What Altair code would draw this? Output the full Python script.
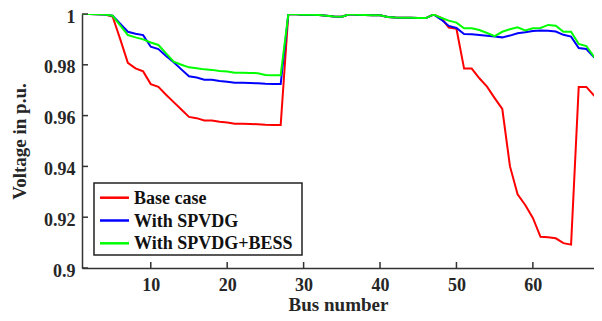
import altair as alt
import pandas as pd

bus = list(range(1, 70))
base = [1.0000, 1.0000, 0.9999, 0.9998, 0.9990, 0.9901, 0.9808, 0.9786, 0.9774, 0.9724,
        0.9713, 0.9682, 0.9653, 0.9624, 0.9595, 0.9590, 0.9581, 0.9581, 0.9576, 0.9573,
        0.9568, 0.9568, 0.9567, 0.9566, 0.9564, 0.9563, 0.9563, 0.9999, 0.9999, 0.9997,
        0.9997, 0.9996, 0.9993, 0.9990, 0.9989, 0.9999, 0.9997, 0.9996, 0.9995, 0.9995,
        0.9988, 0.9986, 0.9985, 0.9985, 0.9984, 0.9984, 0.9998, 0.9985, 0.9947, 0.9942,
        0.9785, 0.9785, 0.9747, 0.9714, 0.9669, 0.9626, 0.9401, 0.9290, 0.9248, 0.9197,
        0.9123, 0.9121, 0.9117, 0.9098, 0.9092, 0.9713, 0.9713, 0.9679, 0.9679]
spvdg = [1.0000, 1.0000, 0.9999, 0.9998, 0.9993, 0.9962, 0.9930, 0.9922, 0.9917, 0.9871,
         0.9862, 0.9835, 0.9810, 0.9782, 0.9755, 0.9750, 0.9741, 0.9741, 0.9736, 0.9733,
         0.9729, 0.9729, 0.9728, 0.9727, 0.9725, 0.9724, 0.9724, 0.9999, 0.9999, 0.9997,
         0.9997, 0.9996, 0.9993, 0.9990, 0.9989, 0.9999, 0.9997, 0.9996, 0.9995, 0.9995,
         0.9988, 0.9986, 0.9985, 0.9985, 0.9984, 0.9984, 0.9998, 0.9978, 0.9953, 0.9945,
         0.9921, 0.9920, 0.9917, 0.9914, 0.9911, 0.9908, 0.9915, 0.9924, 0.9928, 0.9933,
         0.9935, 0.9934, 0.9931, 0.9918, 0.9911, 0.9866, 0.9862, 0.9830, 0.9830]
bess = [1.0000, 1.0000, 0.9999, 0.9998, 0.9993, 0.9955, 0.9917, 0.9908, 0.9900, 0.9888,
        0.9878, 0.9845, 0.9812, 0.9800, 0.9790, 0.9786, 0.9782, 0.9780, 0.9776, 0.9774,
        0.9769, 0.9769, 0.9768, 0.9767, 0.9760, 0.9759, 0.9759, 0.9999, 0.9999, 0.9997,
        0.9997, 0.9996, 0.9993, 0.9990, 0.9989, 0.9999, 0.9997, 0.9996, 0.9995, 0.9995,
        0.9988, 0.9986, 0.9985, 0.9985, 0.9984, 0.9984, 0.9998, 0.9985, 0.9974, 0.9966,
        0.9944, 0.9944, 0.9937, 0.9925, 0.9913, 0.9930, 0.9940, 0.9948, 0.9935, 0.9944,
        0.9945, 0.9957, 0.9954, 0.9930, 0.9930, 0.9882, 0.9874, 0.9832, 0.9832]

series_names = ["Base case", "With SPVDG", "With SPVDG+BESS"]
colors = ["#ff0000", "#0000ff", "#00ff00"]
x_ticks = [10, 20, 30, 40, 50, 60]
y_ticks = [0.9, 0.92, 0.94, 0.96, 0.98, 1.0]

rows = []
for k, (name, vals) in enumerate(zip(series_names, [base, spvdg, bess])):
    for b, v in zip(bus, vals):
        rows.append({"Bus": b, "V": v, "Series": name, "k": k})
df = pd.DataFrame(rows)

FONT = "Liberation Serif"
TXT = "#262626"
AX = "#333333"

xscale = alt.Scale(domain=[1, 68], nice=False, zero=False)
yscale = alt.Scale(domain=[0.9, 1.0], nice=False, zero=False)
cscale = alt.Scale(domain=series_names, range=colors)
xaxis = alt.Axis(values=x_ticks, title="Bus number", tickSize=0,
                 labelPadding=8, titlePadding=1)

lines = alt.Chart(df).mark_line(strokeWidth=2, clip=True).encode(
    x=alt.X("Bus:Q", scale=xscale, axis=xaxis),
    y=alt.Y("V:Q", scale=yscale,
            axis=alt.Axis(values=y_ticks, format=".2~f", title="Voltage in p.u.",
                          tickSize=0, labelPadding=7, titlePadding=14, labelOffset=3)),
    color=alt.Color("Series:N", scale=cscale, legend=None),
    detail="k:N",
)

ytick_df = pd.DataFrame({"t": y_ticks})
xtick_df = pd.DataFrame({"t": x_ticks})
yt = alt.Chart(ytick_df).mark_rule(color=AX, strokeWidth=1.5).encode(
    y=alt.Y("t:Q", scale=yscale, axis=None), x=alt.value(0), x2=alt.value(6))
xt = alt.Chart(xtick_df).mark_rule(color=AX, strokeWidth=1.5).encode(
    x=alt.X("t:Q", scale=xscale, axis=xaxis), y=alt.value(254), y2=alt.value(248))

# legend (box, sample lines, labels)
leg_df = pd.DataFrame({"Series": series_names})
leg_y = alt.Y("Series:N", scale=alt.Scale(type="point", domain=series_names,
                                           range=[183.7, 229.3], padding=0), axis=None)
box = alt.Chart(pd.DataFrame({"b": [0]})).mark_rect(
    fill="white", stroke="#222222", strokeWidth=1.5).encode(
    x=alt.value(12), x2=alt.value(220), y=alt.value(169), y2=alt.value(241))
leg_lines = alt.Chart(leg_df).mark_rule(strokeWidth=2.5).encode(
    y=leg_y, x=alt.value(18), x2=alt.value(47),
    color=alt.Color("Series:N", scale=cscale, legend=None))
leg_text = alt.Chart(leg_df).mark_text(
    align="left", baseline="middle", font=FONT, fontSize=18, fontWeight="bold",
    color="#111111", dy=1).encode(
    y=leg_y, x=alt.value(52), text="Series:N")
legend = alt.layer(box, leg_lines, leg_text)

chart = alt.layer(lines, yt, xt, legend).resolve_scale(y="independent").properties(
    width=512, height=254,
    autosize=alt.AutoSizeParams(type="none"),
    padding={"left": 74, "top": 6, "right": 0, "bottom": 45},
).configure_view(stroke=None).configure_axis(
    domainColor=AX, domainWidth=1.5, grid=False,
    labelFont=FONT, labelFontSize=18, labelFontWeight="bold", labelColor=TXT,
    titleFont=FONT, titleFontSize=19, titleFontWeight="bold", titleColor=TXT,
)

chart.save("out.html", embed_options={"renderer": "svg", "actions": False})
